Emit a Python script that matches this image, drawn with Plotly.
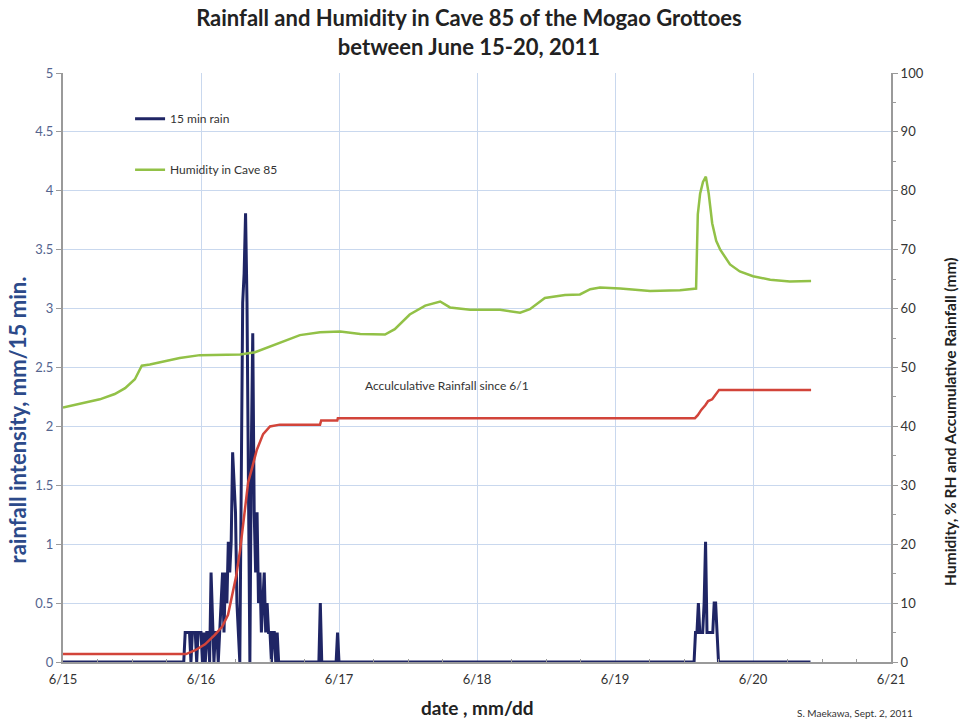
import pandas as pd
import plotly.graph_objects as go

# ---------------- data (hours since 2011-06-15 00:00) ----------------
rain_hours = [0, 21.00, 21.25, 21.50, 21.75, 22.00, 22.25, 22.50, 22.75, 23.00, 23.25,
              23.50, 23.75, 24.00, 24.25, 24.50, 24.75, 25.00, 25.25, 25.50, 25.75,
              26.00, 26.25, 26.50, 26.75, 27.00, 27.25, 27.50, 27.75, 28.00, 28.25,
              28.50, 28.75, 29.00, 29.25, 29.50, 29.75, 30.00, 30.25, 30.50, 30.75,
              31.00, 31.25, 31.50, 31.75, 32.00, 32.25, 32.50, 32.75, 33.00, 33.25,
              33.50, 33.75, 34.00, 34.25, 34.50, 34.75, 35.00, 35.25, 35.50, 35.75,
              36.00, 36.25, 36.50, 36.75, 37.00, 37.25, 37.50, 37.75,
              44.50, 44.75, 45.00, 47.50, 47.75, 48.00,
              109.75, 110.00, 110.25, 110.50, 110.75, 111.00, 111.25, 111.50, 111.75,
              112.00, 112.25, 112.50, 112.75, 113.00, 113.25, 113.50, 113.75, 114.00,
              130.0]
rain_mm = [0, 0, 0.25, 0.25, 0.25, 0.25, 0, 0.25, 0.25, 0.25, 0,
           0.25, 0.25, 0.25, 0, 0.25, 0, 0.25, 0.25, 0, 0.76,
           0.25, 0, 0.25, 0.25, 0, 0.25, 0.5, 0.76, 0.25, 0.76,
           0.5, 1.02, 0.76, 1.02, 1.78, 1.52, 1.27, 0.5, 0.25, 0,
           1.52, 3.05, 3.3, 3.81, 3.05, 1.02, 0, 1.78, 2.79, 1.27,
           0.76, 1.27, 0.5, 0.76, 0.25, 0.5, 0.76, 0.25, 0.5, 0.25,
           0.25, 0, 0.25, 0.25, 0, 0.25, 0, 0,
           0, 0.5, 0, 0, 0.25, 0,
           0, 0.25, 0.25, 0.5, 0.25, 0.25, 0.25, 0.5, 1.02,
           0.25, 0.25, 0.25, 0.25, 0.25, 0.5, 0.5, 0.25, 0,
           0]

hum_hours = [0, 2.96, 6.4, 9.0, 10.8, 12.5, 13.7, 15.1, 17.7, 20.3, 23.8, 27.3, 30.8,
             33.4, 36.0, 38.6, 41.2, 44.7, 48.2, 51.7, 56.0, 57.7, 60.3, 63.0, 65.6,
             67.3, 70.8, 76.0, 79.5, 81.2, 83.8, 87.3, 89.9, 91.7, 93.4, 96.9, 102.1,
             107.3, 110.1, 110.4, 110.8, 111.3, 111.8, 112.3, 112.9, 113.6, 114.3,
             116.0, 117.7, 120.0, 123.0, 126.4, 130.1]
hum_pct = [43.2, 43.8, 44.6, 45.5, 46.5, 48.0, 50.3, 50.5, 51.0, 51.6, 52.1, 52.1, 52.2,
           52.6, 53.6, 54.6, 55.5, 56.0, 56.1, 55.7, 55.6, 56.5, 59.0, 60.5, 61.2,
           60.2, 59.8, 59.8, 59.3, 59.9, 61.8, 62.3, 62.4, 63.3, 63.6, 63.4, 63.0,
           63.1, 63.4, 76.0, 79.5, 81.5, 82.4, 79.5, 74.5, 71.5, 70.0,
           67.5, 66.3, 65.5, 64.9, 64.6, 64.7]

cum_hours = [0, 21.4, 23.0, 24.7, 26.4, 27.7, 28.7, 29.4, 30.1, 30.8, 31.5, 32.2, 32.9,
             33.7, 34.8, 36.0, 37.7, 44.7, 44.9, 47.7, 47.8, 109.9, 110.4, 111.0,
             111.7, 112.2, 112.9, 113.6, 114.1, 130.1]
cum_mm = [1.35, 1.35, 2.0, 3.0, 4.6, 6.0, 8.0, 11.0, 14.5, 19.0, 25.0, 30.5, 33.0,
          36.0, 38.7, 40.0, 40.3, 40.3, 41.0, 41.0, 41.4, 41.4, 41.9, 42.8,
          43.6, 44.3, 44.6, 45.6, 46.2, 46.2]

start = pd.Timestamp("2011-06-15")
x_range = ["2011-06-15", "2011-06-21"]


def to_time(hours):
    return start + pd.to_timedelta(hours, unit="h")


FONT = "Lato, Roboto, sans-serif"
GRID = "#c9d8ee"
AXIS = "#9a9a9a"

fig = go.Figure()
fig.add_trace(go.Scatter(x=to_time(cum_hours), y=cum_mm, yaxis="y2", mode="lines",
                         line=dict(color="#d2443a", width=2.5), showlegend=False,
                         name="Acculculative Rainfall since 6/1"))
fig.add_trace(go.Scatter(x=to_time(hum_hours), y=hum_pct, yaxis="y2", mode="lines",
                         line=dict(color="#92c147", width=2.5), name="Humidity in Cave 85",
                         legendgroup="b", legendrank=2))
fig.add_trace(go.Scatter(x=to_time(rain_hours), y=rain_mm, mode="lines",
                         line=dict(color="#1f2565", width=3), name="15 min rain",
                         legendgroup="a", legendrank=1))

fig.update_layout(
    width=961, height=720,
    margin=dict(l=63, r=70, t=73, b=58),
    paper_bgcolor="white", plot_bgcolor="white",
    font=dict(family=FONT, color="#333333"),
    title=dict(text="<b>Rainfall and Humidity in Cave 85 of the Mogao Grottoes<br>between June 15-20, 2011</b>",
               x=0.488, xanchor="center", y=0.964, yanchor="top",
               font=dict(family=FONT, size=22, color="#222222")),
    xaxis=dict(range=x_range, type="date", dtick=86400000, tickformat="%-m/%d",
               showgrid=True, gridcolor=GRID, gridwidth=1,
               showline=True, linecolor=AXIS, linewidth=2,
               ticks="", tickfont=dict(size=13, color="#333333"), ticklabelstandoff=4,
               minor=dict(dtick=6 * 3600 * 1000, ticks="inside", ticklen=3,
                          tickcolor=AXIS, showgrid=False),
               zeroline=False),
    yaxis=dict(range=[0, 5], dtick=0.5, showgrid=True, gridcolor=GRID, gridwidth=1,
               showline=True, linecolor=AXIS, linewidth=2, ticks="outside",
               ticklen=5, tickcolor=AXIS, zeroline=False,
               tickfont=dict(size=13, color="#55658f")),
    yaxis2=dict(range=[0, 100], dtick=10, overlaying="y", side="right", showgrid=False,
                showline=True, linecolor=AXIS, linewidth=2, ticks="outside",
                ticklen=5, tickcolor=AXIS, zeroline=False,
                minor=dict(dtick=5, ticks="outside", ticklen=3, tickcolor=AXIS),
                tickfont=dict(size=13, color="#333333")),
    legend=dict(x=0.081, y=0.947, xanchor="left", yanchor="top",
                bgcolor="rgba(0,0,0,0)", traceorder="grouped", tracegroupgap=32,
                font=dict(family=FONT, size=12, color="#333333"), itemwidth=30),
    annotations=[
        dict(text="Acculculative Rainfall since 6/1", xref="paper", yref="paper",
             x=0.464, y=0.47, xanchor="center", showarrow=False,
             font=dict(family=FONT, size=12, color="#333333")),
        dict(text="<b>rainfall intensity, mm/15 min.</b>", xref="paper", yref="paper",
             x=-0.055, y=0.411, textangle=-90, showarrow=False, xanchor="center",
             yanchor="middle", font=dict(family=FONT, size=22, color="#2c4a8a")),
        dict(text="<b>Humidity, % RH and Accumulative Rainfall (mm)</b>", xref="paper", yref="paper",
             x=1.072, y=0.407, textangle=-90, showarrow=False, xanchor="center",
             yanchor="middle", font=dict(family=FONT, size=15.5, color="#222222")),
        dict(text="<b>date , mm/dd</b>", xref="paper", yref="paper",
             x=0.5, y=-0.078, showarrow=False, yanchor="middle", xanchor="center",
             font=dict(family=FONT, size=19, color="#222222")),
        dict(text="S. Maekawa, Sept. 2, 2011", xref="paper", yref="paper",
             x=0.956, y=-0.087, showarrow=False, yanchor="middle", xanchor="center",
             font=dict(family=FONT, size=10, color="#333333")),
    ],
)

fig.write_html("out.html", config={"displayModeBar": False},
               post_script="document.body.style.margin='0';")
